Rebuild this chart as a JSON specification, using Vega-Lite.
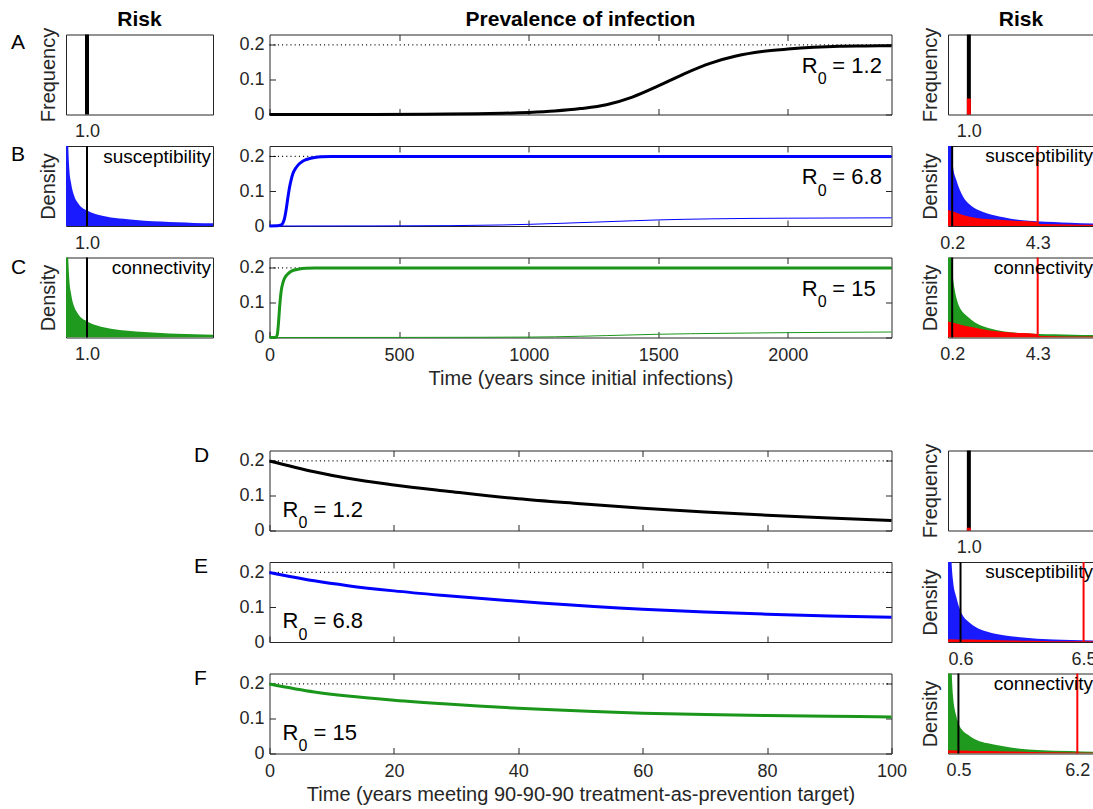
{
  "$schema": "https://vega.github.io/schema/vega-lite/v6.json",
  "background": "white",
  "padding": {"left": 10, "top": 0, "right": 0, "bottom": 0},
  "columns": 3,
  "spacing": {"row": 31.5, "column": 56.5},
  "align": "each",
  "bounds": "flush",
  "config": {
    "font": "Liberation Sans",
    "view": {"stroke": "#262626", "strokeWidth": 1},
    "axis": {"domain": false, "grid": false, "labelFont": "Liberation Sans", "labelFontSize": 18, "labelColor": "#262626", "titleFont": "Liberation Sans", "titleFontSize": 20, "titleFontWeight": "normal", "titleColor": "#262626", "tickColor": "#262626", "tickWidth": 1, "labelFlush": false, "labelOverlap": false},
    "title": {"font": "Liberation Sans", "fontSize": 21, "fontWeight": "bold", "color": "#000000"},
    "text": {"font": "Liberation Sans", "color": "#000000"}
  },
  "concat": [
    {"width": 147, "height": 2.2, "view": {"stroke": null}, "data": {"values": [{}]}, "mark": {"type": "text", "text": "", "fontSize": 0}, "encoding": {},
     "title": {"text": "Risk", "orient": "bottom", "anchor": "middle", "frame": "group", "offset": 23.8, "baseline": "alphabetic"}},
    {"width": 622, "height": 2.2, "view": {"stroke": null}, "data": {"values": [{}]}, "mark": {"type": "text", "text": "", "fontSize": 0}, "encoding": {},
     "title": {"text": "Prevalence of infection", "orient": "bottom", "anchor": "middle", "frame": "group", "offset": 23.8, "baseline": "alphabetic"}},
    {"width": 146, "height": 2.2, "view": {"stroke": null}, "data": {"values": [{}]}, "mark": {"type": "text", "text": "", "fontSize": 0}, "encoding": {},
     "title": {"text": "Risk", "orient": "bottom", "anchor": "middle", "frame": "group", "offset": 23.8, "baseline": "alphabetic"}},

    {"width": 147, "height": 80,
     "title": {"text": "A", "orient": "top", "anchor": "start", "frame": "group", "offset": -28, "dx": -55, "dy": 14.6, "baseline": "alphabetic", "fontWeight": "normal", "fontSize": 21},
     "data": {"values": [{"risk": 1.0, "frequency": 1}]},
     "mark": {"type": "rule", "color": "#000000", "strokeWidth": 4},
     "encoding": {
       "x": {"field": "risk", "type": "quantitative", "scale": {"domain": [0, 7], "nice": false, "zero": false}, "axis": {"values": [1], "format": ".1f", "ticks": false, "title": null, "labelPadding": 8, "labelFlush": false}},
       "y": {"field": "frequency", "type": "quantitative", "scale": {"domain": [0, 1], "nice": false}, "axis": {"title": "Frequency", "labels": false, "ticks": false, "titlePadding": 8}},
       "y2": {"datum": 0}
     }},
    {"width": 622, "height": 80,
     "layer": [
       {"data": {"values": [{"t": 0, "p": 0.2}, {"t": 2400, "p": 0.2}]},
        "mark": {"type": "line", "color": "#000000", "strokeWidth": 1.2, "strokeDash": [1, 3.2]},
        "encoding": {
          "x": {"field": "t", "type": "quantitative", "axis": {"orient": "top", "values": [500, 1000, 1500, 2000], "labels": false, "title": null, "tickSize": 6, "offset": -6}},
          "y": {"field": "p", "type": "quantitative", "axis": {"orient": "right", "values": [0, 0.1, 0.2], "labels": false, "title": null, "tickSize": 6, "offset": -6}}
        }},
       {"data": {"values": [{"t":0,"p":0},{"t":200,"p":0.0001},{"t":400,"p":0.0003},{"t":600,"p":0.0008},{"t":800,"p":0.002},{"t":900,"p":0.0035},{"t":1000,"p":0.006},{"t":1100,"p":0.01},{"t":1200,"p":0.017},{"t":1300,"p":0.028},{"t":1400,"p":0.05},{"t":1500,"p":0.082},{"t":1600,"p":0.117},{"t":1700,"p":0.147},{"t":1800,"p":0.168},{"t":1900,"p":0.181},{"t":2000,"p":0.188},{"t":2100,"p":0.193},{"t":2200,"p":0.196},{"t":2300,"p":0.197},{"t":2400,"p":0.198}]},
        "mark": {"type": "line", "color": "#000000", "strokeWidth": 3, "interpolate": "monotone"},
        "encoding": {
          "x": {"field": "t", "type": "quantitative", "scale": {"domain": [0, 2400], "nice": false, "zero": false}, "axis": {"orient": "bottom", "values": [0, 500, 1000, 1500, 2000], "labels": false, "title": null, "tickSize": 6, "offset": -6}},
          "y": {"field": "p", "type": "quantitative", "scale": {"domain": [0, 0.23], "nice": false}, "axis": {"orient": "left", "values": [0, 0.1, 0.2], "format": ".1~f", "title": null, "tickSize": 6, "offset": -6, "labelPadding": 5.5}}
        }},
       {"data": {"values": [{"R0": "= 1.2"}]}, "mark": {"type": "text", "text": "R", "align": "left", "baseline": "alphabetic", "fontSize": 22}, "encoding": {"x": {"datum": 2054, "type": "quantitative", "axis": null}, "y": {"datum": 0.12, "type": "quantitative", "axis": null}}},
       {"data": {"values": [{"R0": "= 1.2"}]}, "mark": {"type": "text", "text": "0", "align": "left", "baseline": "alphabetic", "fontSize": 16, "dx": 16, "dy": 11.5}, "encoding": {"x": {"datum": 2054, "type": "quantitative", "axis": null}, "y": {"datum": 0.12, "type": "quantitative", "axis": null}}},
       {"data": {"values": [{"R0": "= 1.2"}]}, "mark": {"type": "text", "align": "left", "baseline": "alphabetic", "fontSize": 22, "dx": 30.5}, "encoding": {"x": {"datum": 2054, "type": "quantitative", "axis": null}, "y": {"datum": 0.12, "type": "quantitative", "axis": null}, "text": {"field": "R0"}}}
     ],
     "resolve": {"axis": {"x": "independent", "y": "independent"}}},
    {"width": 146, "height": 80,
     "layer": [
       {"data": {"values": [{"risk": 1.0, "frequency": 1}]},
        "mark": {"type": "rule", "color": "#000000", "strokeWidth": 4},
        "encoding": {
          "x": {"field": "risk", "type": "quantitative", "scale": {"domain": [0, 7], "nice": false, "zero": false}, "axis": {"values": [1], "format": ".1f", "ticks": false, "title": null, "labelPadding": 8, "labelFlush": false}},
          "y": {"field": "frequency", "type": "quantitative", "scale": {"domain": [0, 1], "nice": false}, "axis": {"title": "Frequency", "labels": false, "ticks": false, "titlePadding": 8}},
          "y2": {"datum": 0}
        }},
       {"data": {"values": [{"risk": 1.0, "frequency": 0.2}]},
        "mark": {"type": "rule", "color": "#ff0000", "strokeWidth": 4},
        "encoding": {
          "x": {"field": "risk", "type": "quantitative", "axis": null},
          "y": {"field": "frequency", "type": "quantitative", "axis": null},
          "y2": {"datum": 0}
        }}
     ],
     "resolve": {"axis": {"x": "independent", "y": "independent"}}},

    {"width": 147, "height": 80,
     "title": {"text": "B", "orient": "top", "anchor": "start", "frame": "group", "offset": -22, "dx": -55, "dy": 15, "baseline": "alphabetic", "fontWeight": "normal", "fontSize": 21},
     "layer": [
       {"data": {"values": [{"risk":0,"density":3},{"risk":0.05,"density":1.6},{"risk":0.1,"density":1.05},{"risk":0.16,"density":0.7},{"risk":0.24,"density":0.54},{"risk":0.4,"density":0.37},{"risk":0.56,"density":0.29},{"risk":0.71,"density":0.24},{"risk":0.95,"density":0.2},{"risk":1.2,"density":0.17},{"risk":1.67,"density":0.13},{"risk":2.14,"density":0.105},{"risk":2.94,"density":0.084},{"risk":3.73,"density":0.067},{"risk":4.52,"density":0.055},{"risk":5.3,"density":0.046},{"risk":6.1,"density":0.038},{"risk":7,"density":0.033}]},
        "mark": {"type": "area", "color": "#1a1aff", "interpolate": "monotone", "clip": true, "opacity": 1},
        "encoding": {
          "x": {"field": "risk", "type": "quantitative", "scale": {"domain": [0, 7], "nice": false, "zero": false}, "axis": {"values": [1], "format": ".1f", "ticks": false, "title": null, "labelPadding": 8, "labelFlush": false}},
          "y": {"field": "density", "type": "quantitative", "scale": {"domain": [0, 1], "nice": false}, "axis": {"title": "Density", "labels": false, "ticks": false, "titlePadding": 8}}
        }},
       {"data": {"values": [{"risk": 1.0}]}, "mark": {"type": "rule", "color": "#000000", "strokeWidth": 2}, "encoding": {"x": {"field": "risk", "type": "quantitative", "axis": null}}},
       {"data": {"values": [{"label": "susceptibility"}]}, "mark": {"type": "text", "align": "right", "baseline": "alphabetic", "dx": -2, "fontSize": 19}, "encoding": {"text": {"field": "label"}, "x": {"datum": 7, "type": "quantitative", "axis": null}, "y": {"datum": 0.79, "type": "quantitative", "axis": null}}}
     ],
     "resolve": {"axis": {"x": "independent", "y": "independent"}}},
    {"width": 622, "height": 80,
     "layer": [
       {"data": {"values": [{"t": 0, "p": 0.2}, {"t": 2400, "p": 0.2}]},
        "mark": {"type": "line", "color": "#000000", "strokeWidth": 1.2, "strokeDash": [1, 3.2]},
        "encoding": {
          "x": {"field": "t", "type": "quantitative", "axis": {"orient": "top", "values": [500, 1000, 1500, 2000], "labels": false, "title": null, "tickSize": 6, "offset": -6}},
          "y": {"field": "p", "type": "quantitative", "axis": {"orient": "right", "values": [0, 0.1, 0.2], "labels": false, "title": null, "tickSize": 6, "offset": -6}}
        }},
       {"data": {"values": [{"t":0,"p":0},{"t":400,"p":0.0002},{"t":700,"p":0.001},{"t":900,"p":0.003},{"t":1000,"p":0.0048},{"t":1125,"p":0.0077},{"t":1250,"p":0.011},{"t":1400,"p":0.015},{"t":1500,"p":0.0175},{"t":1700,"p":0.0205},{"t":2000,"p":0.0225},{"t":2400,"p":0.0235}]},
        "mark": {"type": "line", "color": "#0000ff", "strokeWidth": 1, "interpolate": "monotone"},
        "encoding": {
          "x": {"field": "t", "type": "quantitative", "axis": null},
          "y": {"field": "p", "type": "quantitative", "axis": null}
        }},
       {"data": {"values": [{"t":0,"p":0},{"t":30,"p":0.0005},{"t":45,"p":0.003},{"t":52,"p":0.009},{"t":58,"p":0.022},{"t":64,"p":0.046},{"t":71,"p":0.082},{"t":77,"p":0.11},{"t":84,"p":0.134},{"t":90,"p":0.15},{"t":100,"p":0.165},{"t":110,"p":0.175},{"t":122,"p":0.183},{"t":135,"p":0.189},{"t":155,"p":0.194},{"t":175,"p":0.197},{"t":200,"p":0.199},{"t":240,"p":0.2},{"t":1000,"p":0.2},{"t":2400,"p":0.2}]},
        "mark": {"type": "line", "color": "#0000ff", "strokeWidth": 3, "interpolate": "monotone"},
        "encoding": {
          "x": {"field": "t", "type": "quantitative", "scale": {"domain": [0, 2400], "nice": false, "zero": false}, "axis": {"orient": "bottom", "values": [0, 500, 1000, 1500, 2000], "labels": false, "title": null, "tickSize": 6, "offset": -6}},
          "y": {"field": "p", "type": "quantitative", "scale": {"domain": [0, 0.23], "nice": false}, "axis": {"orient": "left", "values": [0, 0.1, 0.2], "format": ".1~f", "title": null, "tickSize": 6, "offset": -6, "labelPadding": 5.5}}
        }},
       {"data": {"values": [{"R0": "= 6.8"}]}, "mark": {"type": "text", "text": "R", "align": "left", "baseline": "alphabetic", "fontSize": 22}, "encoding": {"x": {"datum": 2054, "type": "quantitative", "axis": null}, "y": {"datum": 0.12, "type": "quantitative", "axis": null}}},
       {"data": {"values": [{"R0": "= 6.8"}]}, "mark": {"type": "text", "text": "0", "align": "left", "baseline": "alphabetic", "fontSize": 16, "dx": 16, "dy": 11.5}, "encoding": {"x": {"datum": 2054, "type": "quantitative", "axis": null}, "y": {"datum": 0.12, "type": "quantitative", "axis": null}}},
       {"data": {"values": [{"R0": "= 6.8"}]}, "mark": {"type": "text", "align": "left", "baseline": "alphabetic", "fontSize": 22, "dx": 30.5}, "encoding": {"x": {"datum": 2054, "type": "quantitative", "axis": null}, "y": {"datum": 0.12, "type": "quantitative", "axis": null}, "text": {"field": "R0"}}}
     ],
     "resolve": {"axis": {"x": "independent", "y": "independent"}}},
    {"width": 146, "height": 80,
     "layer": [
       {"data": {"values": [{"risk":0,"density":3},{"risk":0.1,"density":1.5},{"risk":0.18,"density":1.0},{"risk":0.24,"density":0.74},{"risk":0.4,"density":0.575},{"risk":0.72,"density":0.37},{"risk":1.04,"density":0.27},{"risk":1.45,"density":0.2},{"risk":1.85,"density":0.16},{"risk":2.66,"density":0.11},{"risk":3.46,"density":0.075},{"risk":4.27,"density":0.06},{"risk":5.07,"density":0.05},{"risk":5.87,"density":0.04},{"risk":7,"density":0.03}]},
        "mark": {"type": "area", "color": "#1a1aff", "interpolate": "monotone", "clip": true},
        "encoding": {
          "x": {"field": "risk", "type": "quantitative", "scale": {"domain": [0, 7], "nice": false, "zero": false}, "axis": {"values": [0.2, 4.3], "format": ".1f", "ticks": false, "title": null, "labelPadding": 8, "labelFlush": false}},
          "y": {"field": "density", "type": "quantitative", "scale": {"domain": [0, 1], "nice": false}, "axis": {"title": "Density", "labels": false, "ticks": false, "titlePadding": 8}}
        }},
       {"data": {"values": [{"risk":0,"density":0.2},{"risk":0.24,"density":0.18},{"risk":0.4,"density":0.167},{"risk":1.04,"density":0.117},{"risk":1.85,"density":0.088},{"risk":2.66,"density":0.075},{"risk":3.46,"density":0.062},{"risk":4.27,"density":0.05},{"risk":4.35,"density":0.025},{"risk":5.87,"density":0.02},{"risk":7,"density":0.015}]},
        "mark": {"type": "area", "color": "#ff0000", "interpolate": "monotone", "clip": true},
        "encoding": {"x": {"field": "risk", "type": "quantitative", "axis": null}, "y": {"field": "density", "type": "quantitative", "axis": null}}},
       {"data": {"values": [{"risk": 0.2}]}, "mark": {"type": "rule", "color": "#000000", "strokeWidth": 2}, "encoding": {"x": {"field": "risk", "type": "quantitative", "axis": null}}},
       {"data": {"values": [{"risk": 4.3}]}, "mark": {"type": "rule", "color": "#ff0000", "strokeWidth": 2}, "encoding": {"x": {"field": "risk", "type": "quantitative", "axis": null}}},
       {"data": {"values": [{"label": "susceptibility"}]}, "mark": {"type": "text", "align": "right", "baseline": "alphabetic", "dx": -1, "fontSize": 19}, "encoding": {"text": {"field": "label"}, "x": {"datum": 7, "type": "quantitative", "axis": null}, "y": {"datum": 0.8, "type": "quantitative", "axis": null}}}
     ],
     "resolve": {"axis": {"x": "independent", "y": "independent"}}},

    {"width": 147, "height": 80,
     "title": {"text": "C", "orient": "top", "anchor": "start", "frame": "group", "offset": -23, "dx": -55, "dy": 15.5, "baseline": "alphabetic", "fontWeight": "normal", "fontSize": 21},
     "layer": [
       {"data": {"values": [{"risk":0,"density":3},{"risk":0.05,"density":1.6},{"risk":0.1,"density":1.05},{"risk":0.16,"density":0.72},{"risk":0.24,"density":0.55},{"risk":0.4,"density":0.38},{"risk":0.56,"density":0.3},{"risk":0.71,"density":0.25},{"risk":0.95,"density":0.21},{"risk":1.2,"density":0.175},{"risk":1.67,"density":0.135},{"risk":2.14,"density":0.11},{"risk":2.94,"density":0.085},{"risk":3.73,"density":0.068},{"risk":4.52,"density":0.056},{"risk":5.3,"density":0.047},{"risk":6.1,"density":0.04},{"risk":7,"density":0.034}]},
        "mark": {"type": "area", "color": "#1f9a1f", "interpolate": "monotone", "clip": true},
        "encoding": {
          "x": {"field": "risk", "type": "quantitative", "scale": {"domain": [0, 7], "nice": false, "zero": false}, "axis": {"values": [1], "format": ".1f", "ticks": false, "title": null, "labelPadding": 8, "labelFlush": false}},
          "y": {"field": "density", "type": "quantitative", "scale": {"domain": [0, 1], "nice": false}, "axis": {"title": "Density", "labels": false, "ticks": false, "titlePadding": 8}}
        }},
       {"data": {"values": [{"risk": 1.0}]}, "mark": {"type": "rule", "color": "#000000", "strokeWidth": 2}, "encoding": {"x": {"field": "risk", "type": "quantitative", "axis": null}}},
       {"data": {"values": [{"label": "connectivity"}]}, "mark": {"type": "text", "align": "right", "baseline": "alphabetic", "dx": -2, "fontSize": 19}, "encoding": {"text": {"field": "label"}, "x": {"datum": 7, "type": "quantitative", "axis": null}, "y": {"datum": 0.79, "type": "quantitative", "axis": null}}}
     ],
     "resolve": {"axis": {"x": "independent", "y": "independent"}}},
    {"width": 622, "height": 80,
     "layer": [
       {"data": {"values": [{"t": 0, "p": 0.2}, {"t": 2400, "p": 0.2}]},
        "mark": {"type": "line", "color": "#000000", "strokeWidth": 1.2, "strokeDash": [1, 3.2]},
        "encoding": {
          "x": {"field": "t", "type": "quantitative", "axis": {"orient": "top", "values": [500, 1000, 1500, 2000], "labels": false, "title": null, "tickSize": 6, "offset": -6}},
          "y": {"field": "p", "type": "quantitative", "axis": {"orient": "right", "values": [0, 0.1, 0.2], "labels": false, "title": null, "tickSize": 6, "offset": -6}}
        }},
       {"data": {"values": [{"t":0,"p":0},{"t":500,"p":0.0002},{"t":800,"p":0.0006},{"t":1000,"p":0.0012},{"t":1100,"p":0.002},{"t":1300,"p":0.0055},{"t":1500,"p":0.0093},{"t":1750,"p":0.012},{"t":2000,"p":0.014},{"t":2400,"p":0.0158}]},
        "mark": {"type": "line", "color": "#1a961a", "strokeWidth": 1, "interpolate": "monotone"},
        "encoding": {"x": {"field": "t", "type": "quantitative", "axis": null}, "y": {"field": "p", "type": "quantitative", "axis": null}}},
       {"data": {"values": [{"t":0,"p":0},{"t":25,"p":0.001},{"t":30,"p":0.008},{"t":35,"p":0.045},{"t":39,"p":0.087},{"t":45,"p":0.133},{"t":52,"p":0.158},{"t":58,"p":0.17},{"t":67,"p":0.18},{"t":77,"p":0.187},{"t":95,"p":0.194},{"t":115,"p":0.197},{"t":140,"p":0.199},{"t":175,"p":0.2},{"t":1000,"p":0.2},{"t":2400,"p":0.2}]},
        "mark": {"type": "line", "color": "#1a961a", "strokeWidth": 3, "interpolate": "monotone"},
        "encoding": {
          "x": {"field": "t", "type": "quantitative", "scale": {"domain": [0, 2400], "nice": false, "zero": false}, "axis": {"orient": "bottom", "values": [0, 500, 1000, 1500, 2000], "format": "d", "title": "Time (years since initial infections)", "tickSize": 6, "offset": -6, "labelPadding": 9, "titlePadding": 4, "labelFlush": false}},
          "y": {"field": "p", "type": "quantitative", "scale": {"domain": [0, 0.23], "nice": false}, "axis": {"orient": "left", "values": [0, 0.1, 0.2], "format": ".1~f", "title": null, "tickSize": 6, "offset": -6, "labelPadding": 5.5}}
        }},
       {"data": {"values": [{"R0": "= 15"}]}, "mark": {"type": "text", "text": "R", "align": "left", "baseline": "alphabetic", "fontSize": 22}, "encoding": {"x": {"datum": 2054, "type": "quantitative", "axis": null}, "y": {"datum": 0.12, "type": "quantitative", "axis": null}}},
       {"data": {"values": [{"R0": "= 15"}]}, "mark": {"type": "text", "text": "0", "align": "left", "baseline": "alphabetic", "fontSize": 16, "dx": 16, "dy": 11.5}, "encoding": {"x": {"datum": 2054, "type": "quantitative", "axis": null}, "y": {"datum": 0.12, "type": "quantitative", "axis": null}}},
       {"data": {"values": [{"R0": "= 15"}]}, "mark": {"type": "text", "align": "left", "baseline": "alphabetic", "fontSize": 22, "dx": 30.5}, "encoding": {"x": {"datum": 2054, "type": "quantitative", "axis": null}, "y": {"datum": 0.12, "type": "quantitative", "axis": null}, "text": {"field": "R0"}}}
     ],
     "resolve": {"axis": {"x": "independent", "y": "independent"}}},
    {"width": 146, "height": 80,
     "layer": [
       {"data": {"values": [{"risk":0,"density":3},{"risk":0.1,"density":1.5},{"risk":0.17,"density":1.0},{"risk":0.24,"density":0.75},{"risk":0.32,"density":0.6},{"risk":0.45,"density":0.45},{"risk":0.64,"density":0.34},{"risk":0.85,"density":0.28},{"risk":1.13,"density":0.22},{"risk":1.5,"density":0.16},{"risk":1.93,"density":0.12},{"risk":2.7,"density":0.075},{"risk":3.5,"density":0.055},{"risk":4.3,"density":0.045},{"risk":5.1,"density":0.04},{"risk":6,"density":0.033},{"risk":7,"density":0.03}]},
        "mark": {"type": "area", "color": "#1f9a1f", "interpolate": "monotone", "clip": true},
        "encoding": {
          "x": {"field": "risk", "type": "quantitative", "scale": {"domain": [0, 7], "nice": false, "zero": false}, "axis": {"values": [0.2, 4.3], "format": ".1f", "ticks": false, "title": null, "labelPadding": 8, "labelFlush": false}},
          "y": {"field": "density", "type": "quantitative", "scale": {"domain": [0, 1], "nice": false}, "axis": {"title": "Density", "labels": false, "ticks": false, "titlePadding": 8}}
        }},
       {"data": {"values": [{"risk":0,"density":0.2},{"risk":0.3,"density":0.18},{"risk":0.6,"density":0.16},{"risk":1.13,"density":0.13},{"risk":1.93,"density":0.09},{"risk":2.7,"density":0.07},{"risk":3.5,"density":0.055},{"risk":4.27,"density":0.045},{"risk":4.35,"density":0.02},{"risk":7,"density":0.012}]},
        "mark": {"type": "area", "color": "#ff0000", "interpolate": "monotone", "clip": true},
        "encoding": {"x": {"field": "risk", "type": "quantitative", "axis": null}, "y": {"field": "density", "type": "quantitative", "axis": null}}},
       {"data": {"values": [{"risk": 0.2}]}, "mark": {"type": "rule", "color": "#000000", "strokeWidth": 2}, "encoding": {"x": {"field": "risk", "type": "quantitative", "axis": null}}},
       {"data": {"values": [{"risk": 4.3}]}, "mark": {"type": "rule", "color": "#ff0000", "strokeWidth": 2}, "encoding": {"x": {"field": "risk", "type": "quantitative", "axis": null}}},
       {"data": {"values": [{"label": "connectivity"}]}, "mark": {"type": "text", "align": "right", "baseline": "alphabetic", "dx": -1, "fontSize": 19}, "encoding": {"text": {"field": "label"}, "x": {"datum": 7, "type": "quantitative", "axis": null}, "y": {"datum": 0.8, "type": "quantitative", "axis": null}}}
     ],
     "resolve": {"axis": {"x": "independent", "y": "independent"}}},

    {"width": 147, "height": 50, "view": {"stroke": null}, "data": {"values": [{}]}, "mark": {"type": "text", "text": "", "fontSize": 0}, "encoding": {}},
    {"width": 622, "height": 50, "view": {"stroke": null}, "data": {"values": [{}]}, "mark": {"type": "text", "text": "", "fontSize": 0}, "encoding": {}},
    {"width": 146, "height": 50, "view": {"stroke": null}, "data": {"values": [{}]}, "mark": {"type": "text", "text": "", "fontSize": 0}, "encoding": {}},

    {"width": 147, "height": 80, "view": {"stroke": null}, "data": {"values": [{}]}, "mark": {"type": "text", "text": "", "fontSize": 0}, "encoding": {},
     "title": {"text": "D", "orient": "top", "anchor": "start", "frame": "group", "offset": -18, "dx": 128, "dy": 14, "baseline": "alphabetic", "fontWeight": "normal", "fontSize": 21}},
    {"width": 622, "height": 80,
     "layer": [
       {"data": {"values": [{"t": 0, "p": 0.2}, {"t": 100, "p": 0.2}]},
        "mark": {"type": "line", "color": "#000000", "strokeWidth": 1.2, "strokeDash": [1, 3.2]},
        "encoding": {
          "x": {"field": "t", "type": "quantitative", "axis": {"orient": "top", "values": [20, 40, 60, 80], "labels": false, "title": null, "tickSize": 6, "offset": -6}},
          "y": {"field": "p", "type": "quantitative", "axis": {"orient": "right", "values": [0, 0.1, 0.2], "labels": false, "title": null, "tickSize": 6, "offset": -6}}
        }},
       {"data": {"values": [{"t":0,"p":0.2},{"t":7.2,"p":0.169},{"t":12.6,"p":0.15},{"t":20,"p":0.131},{"t":28.6,"p":0.113},{"t":40,"p":0.091},{"t":50,"p":0.077},{"t":60,"p":0.064},{"t":70,"p":0.053},{"t":80,"p":0.044},{"t":90,"p":0.036},{"t":100,"p":0.029}]},
        "mark": {"type": "line", "color": "#000000", "strokeWidth": 3, "interpolate": "monotone"},
        "encoding": {
          "x": {"field": "t", "type": "quantitative", "scale": {"domain": [0, 100], "nice": false, "zero": false}, "axis": {"orient": "bottom", "values": [0, 20, 40, 60, 80], "labels": false, "title": null, "tickSize": 6, "offset": -6}},
          "y": {"field": "p", "type": "quantitative", "scale": {"domain": [0, 0.23], "nice": false}, "axis": {"orient": "left", "values": [0, 0.1, 0.2], "format": ".1~f", "title": null, "tickSize": 6, "offset": -6, "labelPadding": 5.5}}
        }},
       {"data": {"values": [{"R0": "= 1.2"}]}, "mark": {"type": "text", "text": "R", "align": "left", "baseline": "alphabetic", "fontSize": 22}, "encoding": {"x": {"datum": 2.1, "type": "quantitative", "axis": null}, "y": {"datum": 0.04, "type": "quantitative", "axis": null}}},
       {"data": {"values": [{"R0": "= 1.2"}]}, "mark": {"type": "text", "text": "0", "align": "left", "baseline": "alphabetic", "fontSize": 16, "dx": 16, "dy": 11.5}, "encoding": {"x": {"datum": 2.1, "type": "quantitative", "axis": null}, "y": {"datum": 0.04, "type": "quantitative", "axis": null}}},
       {"data": {"values": [{"R0": "= 1.2"}]}, "mark": {"type": "text", "align": "left", "baseline": "alphabetic", "fontSize": 22, "dx": 31}, "encoding": {"x": {"datum": 2.1, "type": "quantitative", "axis": null}, "y": {"datum": 0.04, "type": "quantitative", "axis": null}, "text": {"field": "R0"}}}
     ],
     "resolve": {"axis": {"x": "independent", "y": "independent"}}},
    {"width": 146, "height": 80,
     "layer": [
       {"data": {"values": [{"risk": 1.0, "frequency": 1}]},
        "mark": {"type": "rule", "color": "#000000", "strokeWidth": 4},
        "encoding": {
          "x": {"field": "risk", "type": "quantitative", "scale": {"domain": [0, 7], "nice": false, "zero": false}, "axis": {"values": [1], "format": ".1f", "ticks": false, "title": null, "labelPadding": 8, "labelFlush": false}},
          "y": {"field": "frequency", "type": "quantitative", "scale": {"domain": [0, 1], "nice": false}, "axis": {"title": "Frequency", "labels": false, "ticks": false, "titlePadding": 8}},
          "y2": {"datum": 0}
        }},
       {"data": {"values": [{"risk": 1.0, "frequency": 0.035}]},
        "mark": {"type": "rule", "color": "#ff0000", "strokeWidth": 4},
        "encoding": {
          "x": {"field": "risk", "type": "quantitative", "axis": null},
          "y": {"field": "frequency", "type": "quantitative", "axis": null},
          "y2": {"datum": 0}
        }}
     ],
     "resolve": {"axis": {"x": "independent", "y": "independent"}}},

    {"width": 147, "height": 80, "view": {"stroke": null}, "data": {"values": [{}]}, "mark": {"type": "text", "text": "", "fontSize": 0}, "encoding": {},
     "title": {"text": "E", "orient": "top", "anchor": "start", "frame": "group", "offset": -18, "dx": 128, "dy": 14, "baseline": "alphabetic", "fontWeight": "normal", "fontSize": 21}},
    {"width": 622, "height": 80,
     "layer": [
       {"data": {"values": [{"t": 0, "p": 0.2}, {"t": 100, "p": 0.2}]},
        "mark": {"type": "line", "color": "#000000", "strokeWidth": 1.2, "strokeDash": [1, 3.2]},
        "encoding": {
          "x": {"field": "t", "type": "quantitative", "axis": {"orient": "top", "values": [20, 40, 60, 80], "labels": false, "title": null, "tickSize": 6, "offset": -6}},
          "y": {"field": "p", "type": "quantitative", "axis": {"orient": "right", "values": [0, 0.1, 0.2], "labels": false, "title": null, "tickSize": 6, "offset": -6}}
        }},
       {"data": {"values": [{"t":0,"p":0.2},{"t":7.2,"p":0.176},{"t":12.6,"p":0.162},{"t":20,"p":0.147},{"t":28.6,"p":0.133},{"t":43.6,"p":0.112},{"t":60,"p":0.094},{"t":70,"p":0.086},{"t":80,"p":0.08},{"t":90,"p":0.075},{"t":100,"p":0.071}]},
        "mark": {"type": "line", "color": "#0000ff", "strokeWidth": 3, "interpolate": "monotone"},
        "encoding": {
          "x": {"field": "t", "type": "quantitative", "scale": {"domain": [0, 100], "nice": false, "zero": false}, "axis": {"orient": "bottom", "values": [0, 20, 40, 60, 80], "labels": false, "title": null, "tickSize": 6, "offset": -6}},
          "y": {"field": "p", "type": "quantitative", "scale": {"domain": [0, 0.23], "nice": false}, "axis": {"orient": "left", "values": [0, 0.1, 0.2], "format": ".1~f", "title": null, "tickSize": 6, "offset": -6, "labelPadding": 5.5}}
        }},
       {"data": {"values": [{"R0": "= 6.8"}]}, "mark": {"type": "text", "text": "R", "align": "left", "baseline": "alphabetic", "fontSize": 22}, "encoding": {"x": {"datum": 2.1, "type": "quantitative", "axis": null}, "y": {"datum": 0.04, "type": "quantitative", "axis": null}}},
       {"data": {"values": [{"R0": "= 6.8"}]}, "mark": {"type": "text", "text": "0", "align": "left", "baseline": "alphabetic", "fontSize": 16, "dx": 16, "dy": 11.5}, "encoding": {"x": {"datum": 2.1, "type": "quantitative", "axis": null}, "y": {"datum": 0.04, "type": "quantitative", "axis": null}}},
       {"data": {"values": [{"R0": "= 6.8"}]}, "mark": {"type": "text", "align": "left", "baseline": "alphabetic", "fontSize": 22, "dx": 31}, "encoding": {"x": {"datum": 2.1, "type": "quantitative", "axis": null}, "y": {"datum": 0.04, "type": "quantitative", "axis": null}, "text": {"field": "R0"}}}
     ],
     "resolve": {"axis": {"x": "independent", "y": "independent"}}},
    {"width": 146, "height": 80,
     "layer": [
       {"data": {"values": [{"risk":0,"density":3},{"risk":0.1,"density":1.5},{"risk":0.17,"density":1.0},{"risk":0.24,"density":0.77},{"risk":0.4,"density":0.56},{"risk":0.6,"density":0.39},{"risk":1.04,"density":0.24},{"risk":1.45,"density":0.17},{"risk":1.85,"density":0.13},{"risk":2.66,"density":0.085},{"risk":3.46,"density":0.06},{"risk":4.27,"density":0.042},{"risk":5.87,"density":0.025},{"risk":7,"density":0.017}]},
        "mark": {"type": "area", "color": "#1a1aff", "interpolate": "monotone", "clip": true},
        "encoding": {
          "x": {"field": "risk", "type": "quantitative", "scale": {"domain": [0, 7], "nice": false, "zero": false}, "axis": {"values": [0.6, 6.5], "format": ".1f", "ticks": false, "title": null, "labelPadding": 8, "labelFlush": false}},
          "y": {"field": "density", "type": "quantitative", "scale": {"domain": [0, 1], "nice": false}, "axis": {"title": "Density", "labels": false, "ticks": false, "titlePadding": 8}}
        }},
       {"data": {"values": [{"risk":0,"density":0.035},{"risk":1,"density":0.03},{"risk":2,"density":0.025},{"risk":3,"density":0.02},{"risk":4,"density":0.015},{"risk":5,"density":0.01},{"risk":7,"density":0.008}]},
        "mark": {"type": "area", "color": "#ff0000", "interpolate": "monotone", "clip": true},
        "encoding": {"x": {"field": "risk", "type": "quantitative", "axis": null}, "y": {"field": "density", "type": "quantitative", "axis": null}}},
       {"data": {"values": [{"risk": 0.6}]}, "mark": {"type": "rule", "color": "#000000", "strokeWidth": 2}, "encoding": {"x": {"field": "risk", "type": "quantitative", "axis": null}}},
       {"data": {"values": [{"risk": 6.5}]}, "mark": {"type": "rule", "color": "#ff0000", "strokeWidth": 2}, "encoding": {"x": {"field": "risk", "type": "quantitative", "axis": null}}},
       {"data": {"values": [{"label": "susceptibility"}]}, "mark": {"type": "text", "align": "right", "baseline": "alphabetic", "dx": -1, "fontSize": 19}, "encoding": {"text": {"field": "label"}, "x": {"datum": 7, "type": "quantitative", "axis": null}, "y": {"datum": 0.8, "type": "quantitative", "axis": null}}}
     ],
     "resolve": {"axis": {"x": "independent", "y": "independent"}}},

    {"width": 147, "height": 80, "view": {"stroke": null}, "data": {"values": [{}]}, "mark": {"type": "text", "text": "", "fontSize": 0}, "encoding": {},
     "title": {"text": "F", "orient": "top", "anchor": "start", "frame": "group", "offset": -18, "dx": 128, "dy": 14, "baseline": "alphabetic", "fontWeight": "normal", "fontSize": 21}},
    {"width": 622, "height": 80,
     "layer": [
       {"data": {"values": [{"t": 0, "p": 0.2}, {"t": 100, "p": 0.2}]},
        "mark": {"type": "line", "color": "#000000", "strokeWidth": 1.2, "strokeDash": [1, 3.2]},
        "encoding": {
          "x": {"field": "t", "type": "quantitative", "axis": {"orient": "top", "values": [20, 40, 60, 80], "labels": false, "title": null, "tickSize": 6, "offset": -6}},
          "y": {"field": "p", "type": "quantitative", "axis": {"orient": "right", "values": [0, 0.1, 0.2], "labels": false, "title": null, "tickSize": 6, "offset": -6}}
        }},
       {"data": {"values": [{"t":0,"p":0.2},{"t":7.2,"p":0.177},{"t":12.6,"p":0.165},{"t":20,"p":0.153},{"t":28.6,"p":0.142},{"t":43.6,"p":0.127},{"t":60,"p":0.116},{"t":70,"p":0.112},{"t":80,"p":0.109},{"t":90,"p":0.107},{"t":100,"p":0.105}]},
        "mark": {"type": "line", "color": "#1a961a", "strokeWidth": 3, "interpolate": "monotone"},
        "encoding": {
          "x": {"field": "t", "type": "quantitative", "scale": {"domain": [0, 100], "nice": false, "zero": false}, "axis": {"orient": "bottom", "values": [0, 20, 40, 60, 80, 100], "format": "d", "title": "Time (years meeting 90-90-90 treatment-as-prevention target)", "tickSize": 6, "offset": -6, "labelPadding": 9, "titlePadding": 4, "labelFlush": false}},
          "y": {"field": "p", "type": "quantitative", "scale": {"domain": [0, 0.23], "nice": false}, "axis": {"orient": "left", "values": [0, 0.1, 0.2], "format": ".1~f", "title": null, "tickSize": 6, "offset": -6, "labelPadding": 5.5}}
        }},
       {"data": {"values": [{"R0": "= 15"}]}, "mark": {"type": "text", "text": "R", "align": "left", "baseline": "alphabetic", "fontSize": 22}, "encoding": {"x": {"datum": 2.1, "type": "quantitative", "axis": null}, "y": {"datum": 0.04, "type": "quantitative", "axis": null}}},
       {"data": {"values": [{"R0": "= 15"}]}, "mark": {"type": "text", "text": "0", "align": "left", "baseline": "alphabetic", "fontSize": 16, "dx": 16, "dy": 11.5}, "encoding": {"x": {"datum": 2.1, "type": "quantitative", "axis": null}, "y": {"datum": 0.04, "type": "quantitative", "axis": null}}},
       {"data": {"values": [{"R0": "= 15"}]}, "mark": {"type": "text", "align": "left", "baseline": "alphabetic", "fontSize": 22, "dx": 31}, "encoding": {"x": {"datum": 2.1, "type": "quantitative", "axis": null}, "y": {"datum": 0.04, "type": "quantitative", "axis": null}, "text": {"field": "R0"}}}
     ],
     "resolve": {"axis": {"x": "independent", "y": "independent"}}},
    {"width": 146, "height": 80,
     "layer": [
       {"data": {"values": [{"risk":0,"density":3},{"risk":0.1,"density":1.5},{"risk":0.18,"density":1.0},{"risk":0.24,"density":0.72},{"risk":0.4,"density":0.47},{"risk":0.56,"density":0.34},{"risk":1.04,"density":0.22},{"risk":1.45,"density":0.16},{"risk":1.85,"density":0.13},{"risk":2.66,"density":0.09},{"risk":3.46,"density":0.06},{"risk":4.27,"density":0.045},{"risk":5.87,"density":0.03},{"risk":7,"density":0.02}]},
        "mark": {"type": "area", "color": "#1f9a1f", "interpolate": "monotone", "clip": true},
        "encoding": {
          "x": {"field": "risk", "type": "quantitative", "scale": {"domain": [0, 7], "nice": false, "zero": false}, "axis": {"values": [0.5, 6.2], "format": ".1f", "ticks": false, "title": null, "labelPadding": 8, "labelFlush": false}},
          "y": {"field": "density", "type": "quantitative", "scale": {"domain": [0, 1], "nice": false}, "axis": {"title": "Density", "labels": false, "ticks": false, "titlePadding": 8}}
        }},
       {"data": {"values": [{"risk":0,"density":0.04},{"risk":1,"density":0.035},{"risk":2,"density":0.03},{"risk":3,"density":0.025},{"risk":4,"density":0.02},{"risk":5,"density":0.015},{"risk":7,"density":0.01}]},
        "mark": {"type": "area", "color": "#ff0000", "interpolate": "monotone", "clip": true},
        "encoding": {"x": {"field": "risk", "type": "quantitative", "axis": null}, "y": {"field": "density", "type": "quantitative", "axis": null}}},
       {"data": {"values": [{"risk": 0.5}]}, "mark": {"type": "rule", "color": "#000000", "strokeWidth": 2}, "encoding": {"x": {"field": "risk", "type": "quantitative", "axis": null}}},
       {"data": {"values": [{"risk": 6.2}]}, "mark": {"type": "rule", "color": "#ff0000", "strokeWidth": 2}, "encoding": {"x": {"field": "risk", "type": "quantitative", "axis": null}}},
       {"data": {"values": [{"label": "connectivity"}]}, "mark": {"type": "text", "align": "right", "baseline": "alphabetic", "dx": -1, "fontSize": 19}, "encoding": {"text": {"field": "label"}, "x": {"datum": 7, "type": "quantitative", "axis": null}, "y": {"datum": 0.8, "type": "quantitative", "axis": null}}}
     ],
     "resolve": {"axis": {"x": "independent", "y": "independent"}}}
  ]
}
